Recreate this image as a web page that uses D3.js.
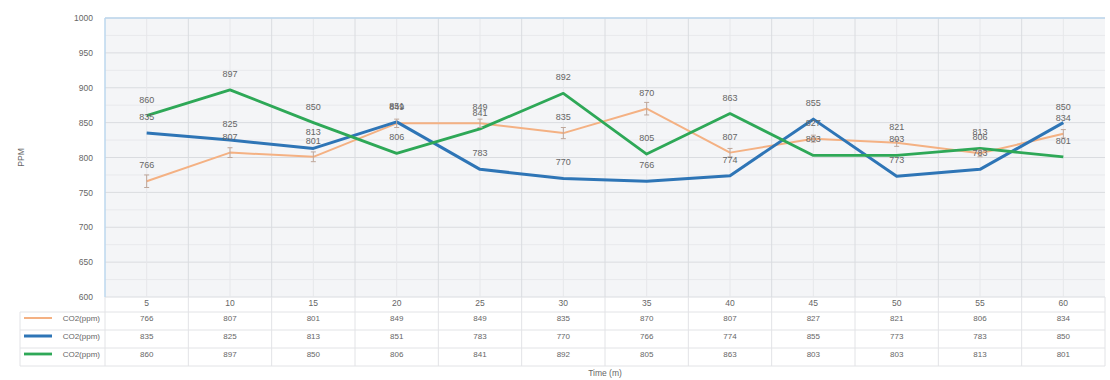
<!DOCTYPE html>
<html>
<head>
<meta charset="utf-8">
<script src="https://cdn.jsdelivr.net/npm/d3@7"></script>
<style>
  body { margin: 0; background: #fff; }
  text { font-family: "Liberation Sans", Arial, sans-serif; fill: #666; }
</style>
</head>
<body>
<div id="canvas"></div>
<script>
// data

const times = ['5', '10', '15', '20', '25', '30', '35', '40', '45', '50', '55', '60'];
const seriesNames = ['CO2(ppm)', 'CO2(ppm)', 'CO2(ppm)'];
const orangeVals = [766, 807, 801, 849, 849, 835, 870, 807, 827, 821, 806, 834];
const blueVals = [835, 825, 813, 851, 783, 770, 766, 774, 855, 773, 783, 850];
const greenVals = [860, 897, 850, 806, 841, 892, 805, 863, 803, 803, 813, 801];
const orangeErr = [9, 7, 7, 6, 6, 8, 9, 6, 5, 5, 5, 6];
const yTicks = [600, 650, 700, 750, 800, 850, 900, 950, 1000];

// constants

const width = 1110;
const height = 380;
const plotL = 105;
const plotR = 1105;
const plotT = 18;
const plotB = 297;
const rowH = 18;
const colors = ['#F4B183', '#2E75B6', '#2EA857'];
const widths = [2, 3, 2.8];

const series = [orangeVals, blueVals, greenVals];

// scales
const xScale = d3.scaleBand()
    .domain(times)
    .range([plotL, plotR]);
const yScale = d3.scaleLinear()
    .domain([600, 1000])
    .range([plotB, plotT]);
const xc = d => xScale(d) + xScale.bandwidth() / 2;

const svg = d3.select('#canvas')
    .append('svg').attr('width', width).attr('height', height);

// plot background
svg.append('rect')
    .attr('x', plotL).attr('y', plotT)
    .attr('width', plotR - plotL).attr('height', plotB - plotT)
    .attr('fill', '#F4F5F7');

// grid
const minor = d3.range(600, 1001, 25);
svg.append('g').selectAll('line').data(minor).join('line')
    .attr('x1', plotL).attr('x2', plotR)
    .attr('y1', d => yScale(d)).attr('y2', d => yScale(d))
    .attr('stroke', d => d % 50 === 0 ? '#DADCE0' : '#E8E9EC')
    .attr('stroke-width', 1);
svg.append('g').selectAll('line').data(times).join('line')
    .attr('x1', d => xc(d)).attr('x2', d => xc(d))
    .attr('y1', plotT).attr('y2', plotB)
    .attr('stroke', '#E6E7EA');
svg.append('g').selectAll('line').data(times.slice(1)).join('line')
    .attr('x1', d => xScale(d)).attr('x2', d => xScale(d))
    .attr('y1', plotT).attr('y2', plotB)
    .attr('stroke', '#DADCE0');

// borders
svg.append('line')
    .attr('x1', plotL).attr('x2', plotR).attr('y1', plotT).attr('y2', plotT)
    .attr('stroke', '#BDD7EE').attr('stroke-width', 1.5);
svg.append('line')
    .attr('x1', plotL).attr('x2', plotL).attr('y1', plotT).attr('y2', plotB)
    .attr('stroke', '#BDD7EE').attr('stroke-width', 1.5);

// y axis
const yAxis = d3.axisLeft(yScale).tickValues(yTicks).tickFormat(d3.format('d'))
    .tickSize(0).tickPadding(12);
const gy = svg.append('g')
    .attr('transform', `translate(${plotL},0)`)
    .call(yAxis);
gy.select('.domain').remove();
gy.selectAll('text').attr('font-size', 8.5).attr('fill', '#777');

svg.append('text')
    .attr('transform', `translate(24,${(plotT + plotB) / 2}) rotate(-90)`)
    .attr('text-anchor', 'middle')
    .attr('font-size', 8.5)
    .attr('fill', '#777')
    .text('PPM');

// lines
const line = d3.line()
    .x((d, i) => xc(times[i]))
    .y(d => yScale(d));

series.forEach((vals, s) => {
    svg.append('path')
        .datum(vals)
        .attr('fill', 'none')
        .attr('stroke', colors[s])
        .attr('stroke-width', widths[s])
        .attr('stroke-linejoin', 'round')
        .attr('d', line);
});

// error bars on orange
const eb = svg.append('g').attr('stroke', '#BFA79A').attr('stroke-width', 1);
orangeVals.forEach((v, i) => {
    const x = xc(times[i]);
    eb.append('line')
        .attr('x1', x).attr('x2', x)
        .attr('y1', yScale(v - orangeErr[i])).attr('y2', yScale(v + orangeErr[i]));
    [v - orangeErr[i], v + orangeErr[i]].forEach(e => {
        eb.append('line')
            .attr('x1', x - 2.5).attr('x2', x + 2.5)
            .attr('y1', yScale(e)).attr('y2', yScale(e));
    });
});

// data labels
series.forEach((vals, s) => {
    svg.append('g').selectAll('text').data(vals).join('text')
        .attr('x', (d, i) => xc(times[i]))
        .attr('y', d => yScale(d) - 13)
        .attr('text-anchor', 'middle')
        .attr('font-size', 9)
        .attr('fill', '#666')
        .text(d => d);
});

// data table
const tableL = 20;
const rows = [plotB, plotB + rowH, plotB + rowH * 2, plotB + rowH * 3, plotB + rowH * 4];
const tg = svg.append('g');
tg.selectAll('line.h').data(rows.slice(1)).join('line')
    .attr('x1', tableL).attr('x2', plotR)
    .attr('y1', d => d - 3).attr('y2', d => d - 3)
    .attr('stroke', '#E2E3E6');
tg.selectAll('line.v').data(times.slice(1).concat(['end'])).join('line')
    .attr('x1', d => d === 'end' ? plotR : xScale(d))
    .attr('x2', d => d === 'end' ? plotR : xScale(d))
    .attr('y1', plotB).attr('y2', rows[4] - 3)
    .attr('stroke', '#E2E3E6');
tg.append('line')
    .attr('x1', plotL).attr('x2', plotL)
    .attr('y1', plotB).attr('y2', rows[4] - 3)
    .attr('stroke', '#E2E3E6');
tg.append('line')
    .attr('x1', tableL).attr('x2', tableL)
    .attr('y1', rows[1] - 3).attr('y2', rows[4] - 3)
    .attr('stroke', '#E2E3E6');

// category labels row
tg.selectAll('text.cat').data(times).join('text')
    .attr('x', d => xc(d))
    .attr('y', plotB + 9)
    .attr('text-anchor', 'middle')
    .attr('font-size', 8.5)
    .attr('fill', '#777')
    .text(d => d);

series.forEach((vals, s) => {
    const y = rows[s + 1] + 9;
    const row = svg.append('g');
    row.selectAll('text').data(vals).join('text')
        .attr('x', (d, i) => xc(times[i]))
        .attr('y', y - 3)
        .attr('text-anchor', 'middle')
        .attr('font-size', 8)
        .attr('fill', '#888')
        .text(d => d);
    row.append('line')
        .attr('x1', 24).attr('x2', 52)
        .attr('y1', y - 6).attr('y2', y - 6)
        .attr('stroke', colors[s])
        .attr('stroke-width', widths[s]);
    row.append('text')
        .attr('x', 100).attr('y', y - 3)
        .attr('text-anchor', 'end')
        .attr('font-size', 8)
        .attr('fill', '#888')
        .text(seriesNames[s]);
});

// x axis title
svg.append('text')
    .attr('x', (plotL + plotR) / 2)
    .attr('y', 376)
    .attr('text-anchor', 'middle')
    .attr('font-size', 8.5)
    .attr('fill', '#777')
    .text('Time (m)');
</script>
</body>
</html>
